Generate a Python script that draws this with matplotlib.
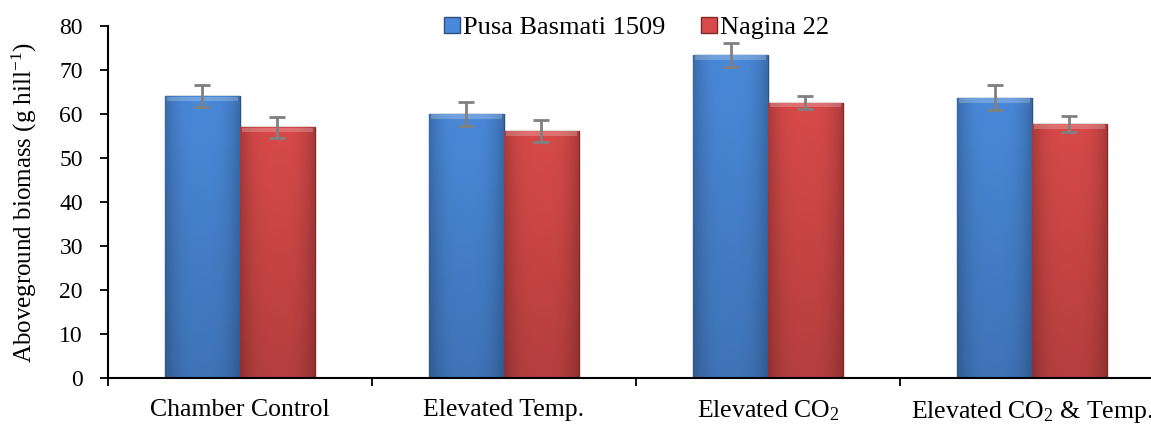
import numpy as np
import matplotlib.pyplot as plt
from matplotlib.colors import to_rgb

plt.rcParams['font.family'] = ['Liberation Serif', 'DejaVu Serif']
plt.rcParams['mathtext.fontset'] = 'custom'
plt.rcParams['mathtext.rm'] = 'Liberation Serif'
plt.rcParams['mathtext.it'] = 'Liberation Serif:italic'

# Data
treatments = ['Chamber Control', 'Elevated Temp.', 'Elevated CO$_2$', 'Elevated CO$_2$ & Temp.']
pusa = [64.0, 60.0, 73.4, 63.7]
pusa_err = [2.5, 2.8, 2.7, 2.9]
nagina = [57.0, 56.2, 62.6, 57.8]
nagina_err = [2.35, 2.5, 1.5, 1.8]
series_names = ['Pusa Basmati 1509', 'Nagina 22']

fig = plt.figure(figsize=(11.51, 4.25), dpi=100)
ax = fig.add_axes([0.0938, 0.1106, 0.9175, 0.8282])

x = np.arange(len(treatments))
w = 0.284


def shade_image(base):
    # horizontal: darker at the sides, vertical: a little darker at the bottom
    rgb = np.array(to_rgb(base))
    h = np.linspace(-1, 1, 80)
    hf = 0.78 + 0.22 * (1 - np.abs(h) ** 3)
    v = np.linspace(0, 1, 100)[:, None]
    vf = 0.84 + 0.16 * v
    img = rgb[None, None, :] * (hf[None, :, None] * vf[:, :, None])
    return np.clip(img, 0, 1)


def shaded_bars(xpos, vals, errs, face, edge, label):
    bars = ax.bar(xpos, vals, w, color=face, edgecolor=edge, linewidth=1, label=label, zorder=2)
    img = shade_image(face)
    for b in bars:
        x0, y0 = b.get_x(), b.get_y()
        bw, bh = b.get_width(), b.get_height()
        im = ax.imshow(img, aspect='auto', extent=[x0, x0 + bw, y0, y0 + bh], origin='lower',
                       zorder=2.1, interpolation='bilinear')
        im.set_clip_path(b)
        # light bevel at the top
        ax.fill_between([x0 + bw * 0.03, x0 + bw * 0.97], y0 + bh - 1.1, y0 + bh - 0.1,
                        color='white', alpha=0.22, linewidth=0, zorder=2.2)
    ax.errorbar(xpos, vals, yerr=errs, fmt='none', ecolor='#808080', elinewidth=2,
                capsize=6, capthick=2, zorder=3)
    return bars


b1 = shaded_bars(x - w / 2, pusa, pusa_err, '#4a89d9', '#2b4f80', series_names[0])
b2 = shaded_bars(x + w / 2, nagina, nagina_err, '#d84a4a', '#7f2a2a', series_names[1])

ax.set_xlim(-0.5, 3.5)
ax.set_ylim(0, 80)
ax.set_yticks(np.arange(0, 81, 10))
ax.tick_params(axis='y', labelsize=17, length=6, width=1.3, direction='out', pad=12)

ax.set_xticks([-0.5, 0.5, 1.5, 2.5])
ax.set_xticklabels([])
ax.tick_params(axis='x', which='major', length=6, width=1.3, direction='out')
ax.set_xticks(x, minor=True)
ax.set_xticklabels(treatments, minor=True, fontsize=18.5)
ax.tick_params(axis='x', which='minor', length=0, pad=15)

for s in ['top', 'right']:
    ax.spines[s].set_visible(False)
for s in ['left', 'bottom']:
    ax.spines[s].set_linewidth(1.5)

ax.set_ylabel('Aboveground biomass (g hill$^{-1}$)', fontsize=18, labelpad=15)

fig.legend(handles=[b1, b2], labels=series_names, loc='upper center', bbox_to_anchor=(0.553, 1.017),
           ncol=2, frameon=False, fontsize=19, handlelength=0.6, handleheight=0.6,
           handletextpad=0.12, columnspacing=1.35)

fig.savefig('out.png', dpi=100)
